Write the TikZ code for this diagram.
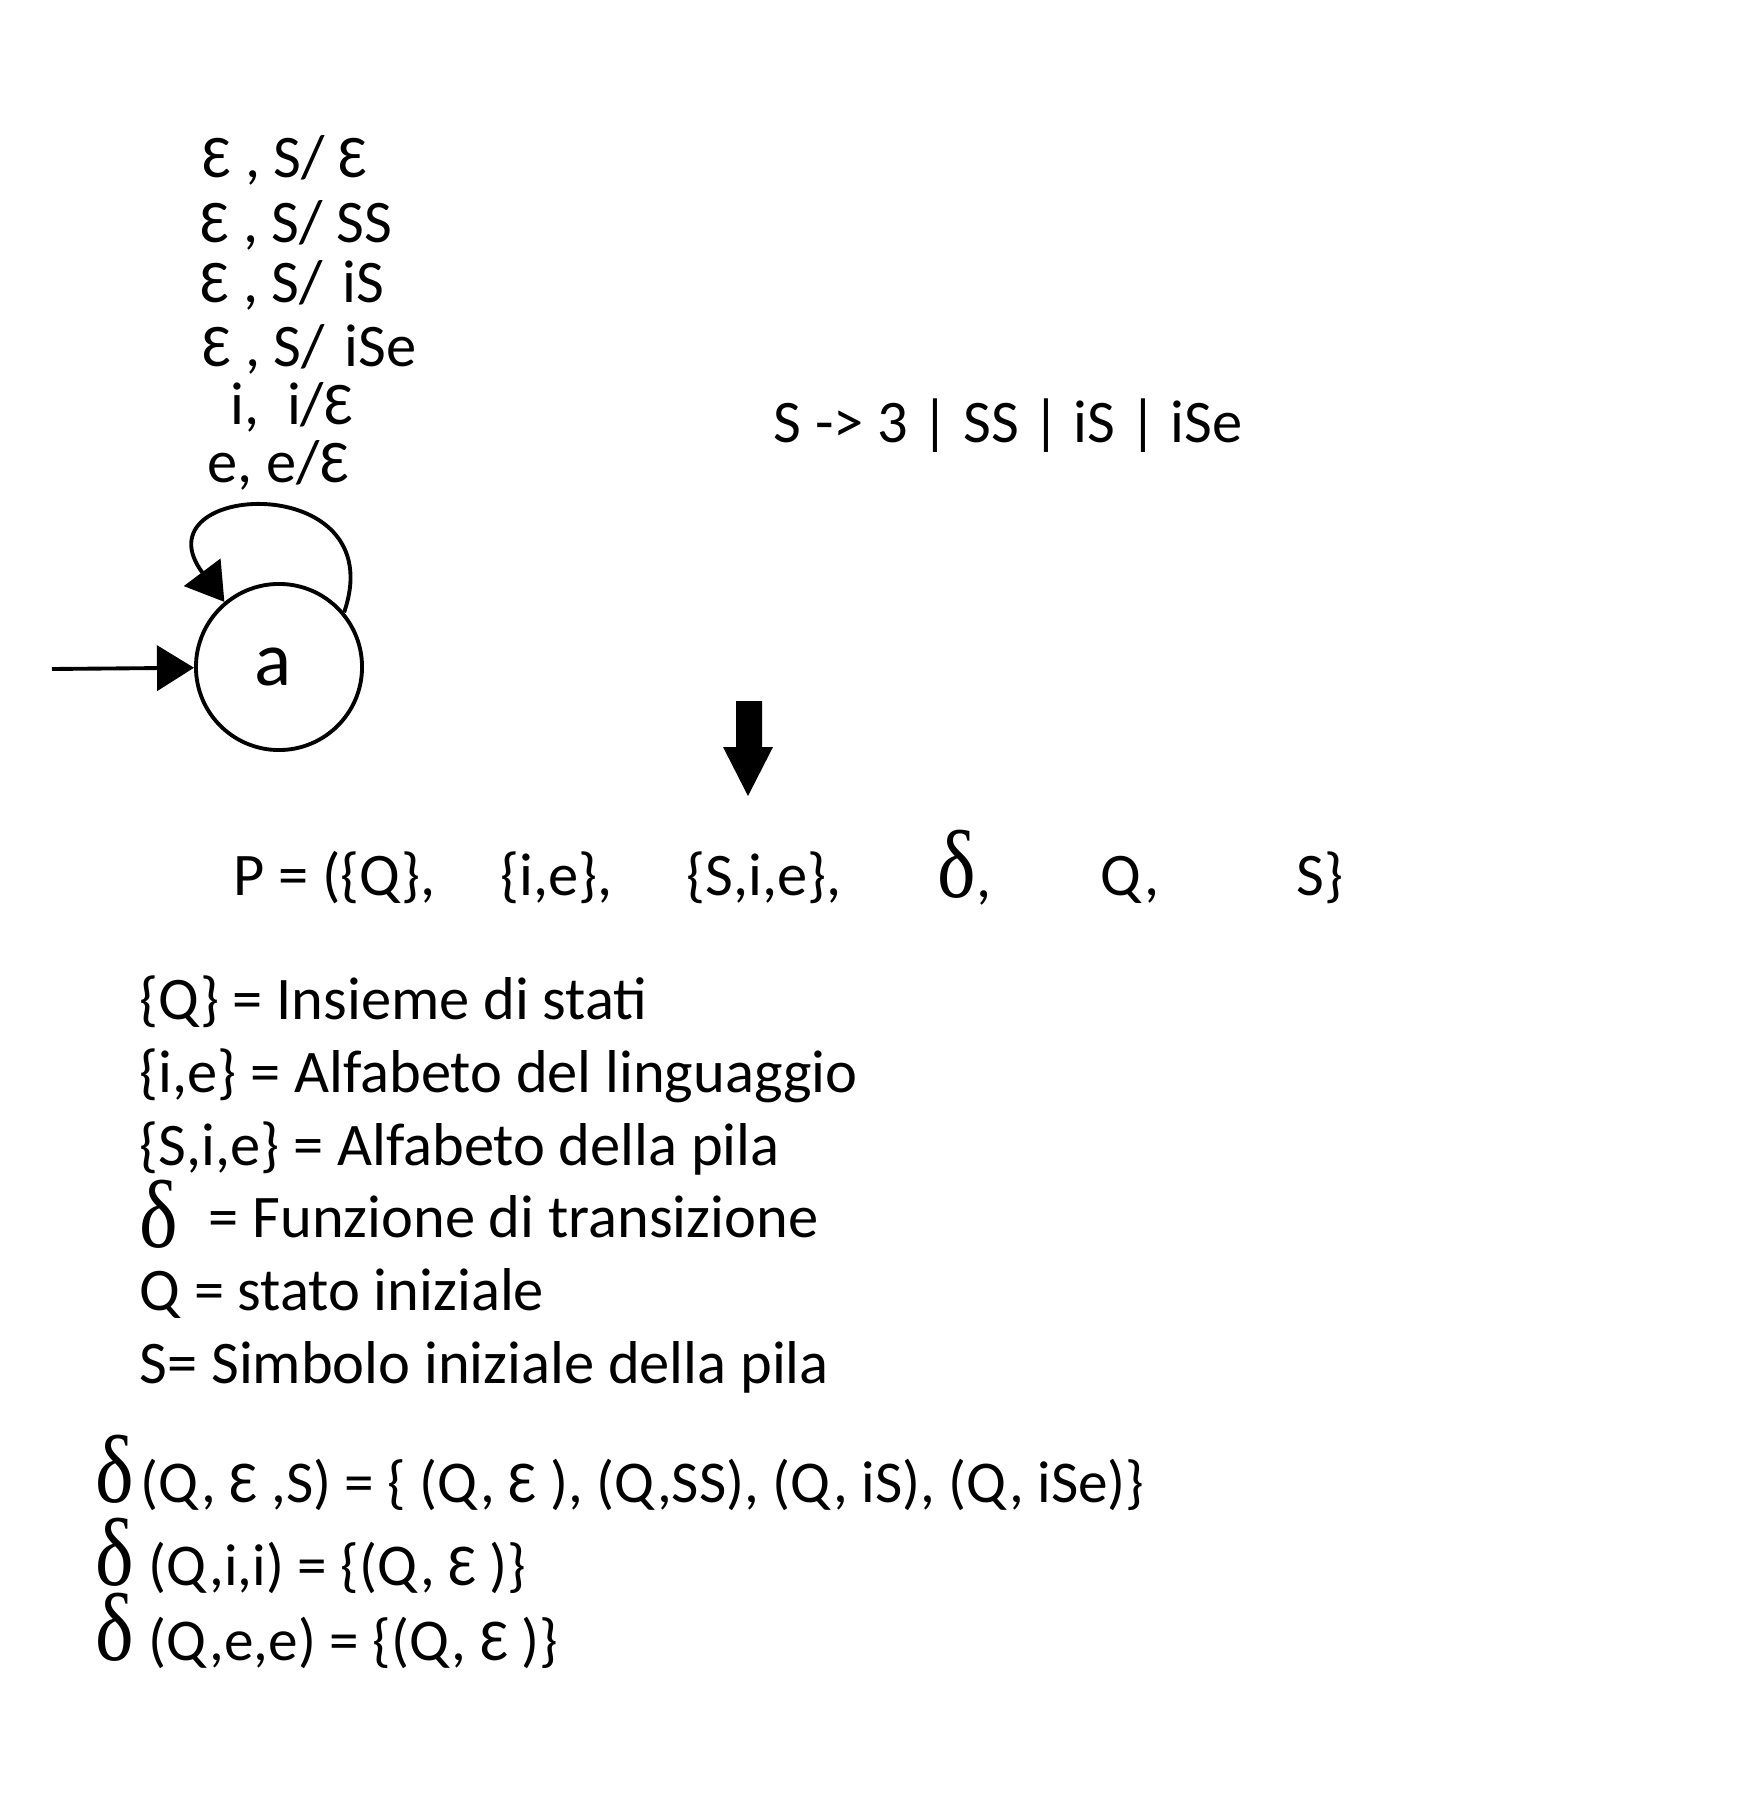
\documentclass[tikz,border=0pt]{standalone}
\usepackage{graphicx}
\usepackage{fontspec}
\setmainfont{Carlito}
\newfontfamily\deltafont{Liberation Serif}
\newcommand{\dd}{\scalebox{0.95}[1.12]{\deltafont\fontsize{24.5pt}{24.5pt}\selectfont δ}}
\usetikzlibrary{arrows.meta}

\tikzset{
  txt/.style={anchor=base west, inner sep=0, font=\fontsize{17.2pt}{17.2pt}\selectfont},
  trans/.style={txt, font=\fontsize{16.85pt}{16.85pt}\selectfont},
  state/.style={draw, circle, line width=1.1pt, minimum size=1.66cm, inner sep=0, font=\fontsize{22pt}{22pt}\selectfont},
  tip/.style={-{Triangle[length=0.37cm,width=0.45cm]}, line width=1.1pt}
}

\begin{document}
\begin{tikzpicture}[x=0.01cm,y=-0.01cm]
	\useasboundingbox (0,0) rectangle (1748,1804);
	% automa a pila
	\node[state] (a) at (279,667) {\hspace*{-0.12cm}a};
	\coordinate (start) at (52,669);
	\draw[tip] (start) -- (a);
	\draw[tip] (a.40) .. controls +(50,-145) and +(-90,-120) .. (a.130);
	% etichette del cappio
	\node[txt] (l1) at (202,178) {Ɛ , S/ Ɛ};
	\node[txt] (l2) at (200,243) {Ɛ , S/ SS};
	\node[txt] (l3) at (200,303) {Ɛ , S/\ \hspace{0.06cm}iS};
	\node[txt] (l4) at (202,367) {Ɛ , S/\ \hspace{0.06cm}iSe};
	\node[txt] (l5) at (230,425) {i,\ \ i/Ɛ};
	\node[txt] (l6) at (207,483) {e, e/Ɛ};
	% grammatica
	\node[txt] (gram) at (773,443) {S -> 3 | SS | iS | iSe};
	\fill (736,701) -- (762,701) -- (762,747) -- (773,747) -- (748,796) -- (723,747) -- (736,747) -- cycle;
	% definizione
	\node[txt] (p1) at (233,895) {P = (\{Q\},};
	\node[txt] (p2) at (500,895) {\{i,e\},};
	\node[txt] (p3) at (686,895) {\{S,i,e\},};
	\node[txt] (p4) at (937,897) {\dd,};
	\node[txt] (p5) at (1100,895) {Q,};
	\node[txt] (p6) at (1296,895) {S\}};
	\node[txt] (q1) at (139,1019) {\{Q\} = Insieme di stati};
	\node[txt] (q2) at (139,1092) {\{i,e\} = Alfabeto del linguaggio};
	\node[txt] (q3) at (139,1165) {\{S,i,e\} = Alfabeto della pila};
	\node[txt] (q4) at (139,1237) {\makebox[0.69cm][l]{\raisebox{-0.1cm}{\dd}}= Funzione di transizione};
	\node[txt] (q5) at (139,1310) {Q = stato iniziale};
	\node[txt] (q6) at (139,1383) {S= Simbolo iniziale della pila};
	% transizioni
	\node[trans] (d1) at (95,1502) {\makebox[0.45cm][l]{\dd}(Q, Ɛ ,S) = \{ (Q, Ɛ ), (Q,SS), (Q, iS), (Q, iSe)\}};
	\node[trans] (d2) at (95,1585) {\makebox[0.53cm][l]{\dd}(Q,i,i) = \{(Q, Ɛ )\}};
	\node[trans] (d3) at (95,1660) {\makebox[0.53cm][l]{\dd}(Q,e,e) = \{(Q, Ɛ )\}};
\end{tikzpicture}
\end{document}
